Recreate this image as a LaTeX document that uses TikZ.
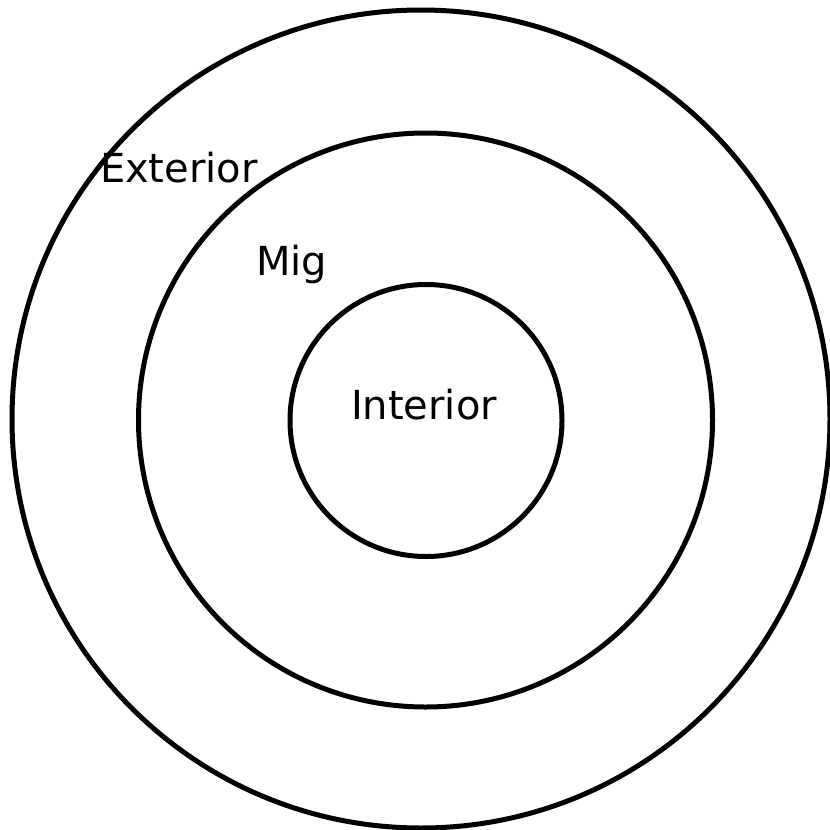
\documentclass[tikz,border=0pt]{standalone}
\usepackage{fontspec}
\setmainfont{DejaVu Sans}
\begin{document}
\begin{tikzpicture}[x=1pt,y=-1pt,
  ring/.style={draw=black,line width=5pt,circle,inner sep=0pt,outer sep=0pt},
  lbl/.style={inner sep=0pt,outer sep=0pt,anchor=base west,font=\fontsize{40}{48}\selectfont}]
\useasboundingbox (0,0) rectangle (830,830);
\node[ring,minimum size=818pt] (outer) at (421,419) {};
\node[ring,minimum size=574pt] (middle) at (425.5,420) {};
\node[ring,minimum size=272pt] (inner) at (426,420.5) {};
\node[lbl] (ext) at (100,182) {Exterior};
\node[lbl] (mig) at (256,275) {Mig};
\node[lbl] (int) at (351,419) {Interior};
\end{tikzpicture}
\end{document}
